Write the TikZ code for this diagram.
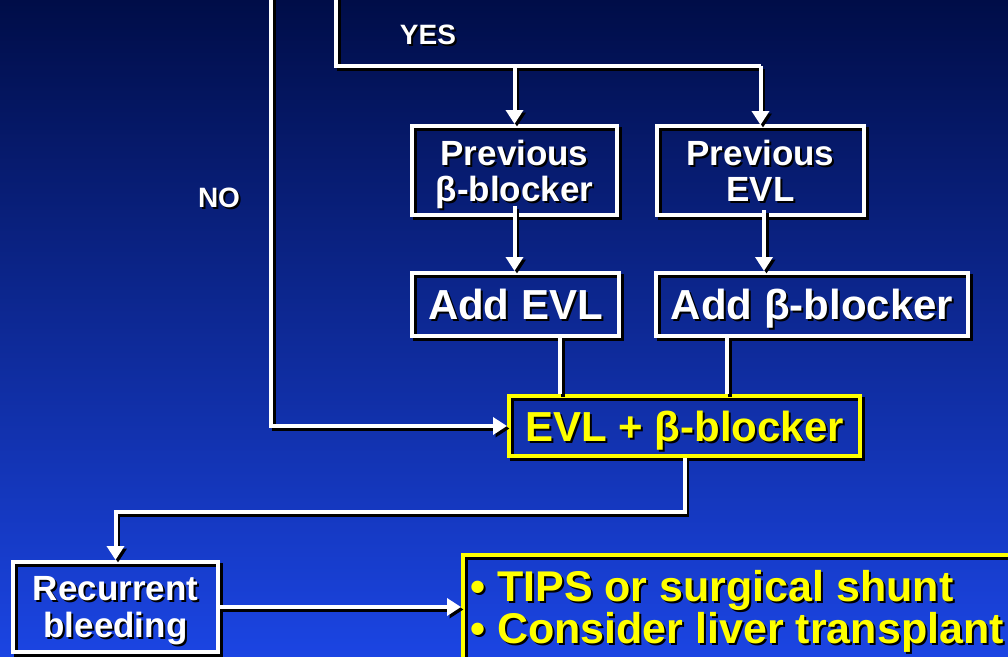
\documentclass[tikz,border=0pt]{standalone}
\usepackage{fontspec}
\setmainfont{Liberation Sans}
\usetikzlibrary{arrows.meta,calc}
\definecolor{bgtop}{HTML}{000D48}
\definecolor{bgmid}{HTML}{0A2690}
\definecolor{bgbot}{HTML}{1B45E3}
\definecolor{ylw}{HTML}{FFFF00}
\newcommand\sh[1]{\leavevmode\rlap{\kern2pt\smash{\raisebox{-2pt}{\textcolor{black}{#1}}}}#1}
\tikzset{
  shad/.style={preaction={draw=black, line width=4pt, transform canvas={shift={(2.5pt,-2.5pt)}}}},
  wbox/.style={shad, draw=white, line width=4pt, text=white, align=center, inner sep=0pt, text depth=0pt},
  ybox/.style={shad, draw=ylw, line width=4pt, text=ylw, align=center, inner sep=0pt, text depth=0pt},
  conn/.style={shad, draw=white, line width=4pt},
  arr/.style={conn, -{Triangle[width=17pt,length=14pt]}},
  lbl/.style={text=white, font=\fontsize{28}{30}\selectfont\bfseries, inner sep=0pt},
  fsmall/.style={font=\fontsize{35}{36}\selectfont\bfseries},
  fbig/.style={font=\fontsize{42}{44}\selectfont\bfseries},
  frec/.style={font=\fontsize{35}{37}\selectfont\bfseries},
}
\begin{document}
\begin{tikzpicture}[x=1pt,y=-1pt]
\useasboundingbox (0,0) rectangle (1008,656);
\clip (0,0) rectangle (1008,656);
\shade[top color=bgtop, middle color=bgmid, bottom color=bgbot] (0,0) rectangle (1008,656);

% boxes
\node[wbox, fsmall, minimum width=205pt, minimum height=89pt] (pb) at (514.5,170.5) {\sh{Previous}\\\sh{β-blocker}};
\node[wbox, fsmall, minimum width=207pt, minimum height=89pt] (pe) at (760.5,170.5) {\sh{Previous}\\\sh{EVL}};
\node[wbox, fbig, minimum width=207pt, minimum height=63pt] (ae) at (515.5,304.5) {\sh{Add EVL}};
\node[wbox, fbig, minimum width=312pt, minimum height=63pt] (ab) at (812,304.5) {\sh{Add β-blocker}};
\node[ybox, fbig, minimum width=351pt, minimum height=60pt] (ev) at (684.5,426) {\sh{EVL + β-blocker}};
\node[wbox, frec, minimum width=205pt, minimum height=90pt] (rb) at (115.5,607) {\sh{Recurrent}\\\sh{bleeding}};
\node[ybox, minimum width=640pt, minimum height=160pt, anchor=north west] (tp) at (461,553) {};
\node[text=ylw, font=\fontsize{43}{42}\selectfont\bfseries, align=left, anchor=west, inner sep=0pt] (tpt) at (470,611) {\sh{• TIPS or surgical shunt}\\\sh{• Consider liver transplant}};

% labels
\node[lbl] (yes) at (428,35) {\sh{YES}};
\node[lbl] (no) at (219,198) {\sh{NO}};

% connectors
\coordinate (nostart) at (271,-10);
\coordinate (yesstart) at (336,-10);
\coordinate (yesbar) at (336,66);
\draw[arr] (nostart) |- (ev.west);
\draw[conn] (yesstart) |- (pe.north |- yesbar);
\draw[arr] (pb.north |- yesbar) -- (pb.north);
\draw[arr] (pe.north |- yesbar) -- ([yshift=-1pt]pe.north);
\draw[arr] ([yshift=11pt]pb.south) -- (pb.south |- ae.north);
\draw[arr] ([xshift=3.5pt,yshift=7pt]pe.south) -- ([xshift=3.5pt]pe.south |- ab.north);
\draw[conn] ([xshift=44.5pt]ae.south) -- ([xshift=44.5pt]ae.south |- ev.north);
\draw[conn] ([xshift=-85pt]ab.south) -- ([xshift=-85pt]ab.south |- ev.north);
\draw[arr] (ev.south) -- ++(0,54) -| (rb.north);
\draw[arr] (rb.east) -- (rb.east -| tp.west);
\end{tikzpicture}
\end{document}
